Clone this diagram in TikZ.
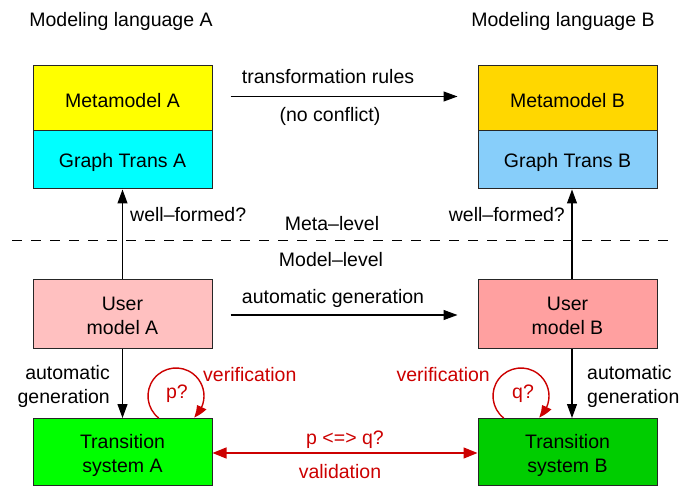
\documentclass[tikz,border=0pt]{standalone}
\usepackage{fontspec}
\setmainfont{Liberation Sans}
\usetikzlibrary{arrows.meta,bending}
\definecolor{cMA}{HTML}{FFFF00}
\definecolor{cGA}{HTML}{00FFFF}
\definecolor{cMB}{HTML}{FFD700}
\definecolor{cGB}{HTML}{87CEFA}
\definecolor{cUA}{HTML}{FFC0C0}
\definecolor{cUB}{HTML}{FFA0A0}
\definecolor{cTA}{HTML}{00FF00}
\definecolor{cTB}{HTML}{00CD00}
\definecolor{vred}{HTML}{CC0000}
\tikzset{
  box/.style={draw=black!85, line width=1pt, minimum width=179pt, inner sep=0pt},
  btxt/.style={inner sep=0pt, align=center, yshift=-2.5pt, font=\fontsize{19.5}{24}\selectfont},
  lbl/.style={inner sep=0pt, align=center, yshift=-1.5pt, font=\fontsize{19.5}{24}\selectfont},
  rlbl/.style={lbl, text=vred},
  arr/.style={line width=1.1pt, -{Triangle[length=14pt,width=10pt]}},
  rarr/.style={draw=vred, line width=1.4pt, {Triangle[length=14pt,width=11pt]}-{Triangle[length=14pt,width=11pt]}},
  loop/.style={draw=vred, line width=1.4pt, -{Triangle[length=13pt,width=10pt,bend]}},
}
\begin{document}
\begin{tikzpicture}[x=1pt,y=-1pt]
\useasboundingbox (0,0) rectangle (685,489);
% titles
\node[lbl] (tiA) at (121,20) {Modeling language A};
\node[lbl] (tiB) at (563,20) {Modeling language B};
% boxes
\node[box, fill=cMA, minimum height=65pt, label={[btxt]center:Metamodel A}] (mA) at (122.5,98.5) {};
\node[box, fill=cGA, minimum height=58pt, label={[btxt]center:Graph Trans A}] (gA) at (122.5,160) {};
\node[box, fill=cMB, minimum height=65pt, label={[btxt]center:Metamodel B}] (mB) at (567.5,98.5) {};
\node[box, fill=cGB, minimum height=58pt, label={[btxt]center:Graph Trans B}] (gB) at (567.5,160) {};
\node[box, fill=cUA, minimum height=69pt, label={[btxt]center:{User\\model A}}] (uA) at (122.5,313.5) {};
\node[box, fill=cUB, minimum height=69pt, label={[btxt]center:{User\\model B}}] (uB) at (567.5,313.5) {};
\node[box, fill=cTA, minimum height=67pt, label={[btxt,yshift=-1pt]center:{Transition\\system A}}] (tA) at (122.5,452) {};
\node[box, fill=cTB, minimum height=67pt, label={[btxt,yshift=-1pt]center:{Transition\\system B}}] (tB) at (567.5,452) {};
% transformation rules
\draw[arr] ([xshift=18pt,yshift=2pt]mA.east) -- ([xshift=-20pt,yshift=2pt]mB.west);
\node[lbl] (trl) at (328,75) {transformation rules};
\node[lbl] (noc) at (330,115) {(no conflict)};
% well-formed
\draw[arr] (uA.north) -- (gA.south);
\draw[arr] ([xshift=4.5pt]uB.north) -- ([xshift=4.5pt]gB.south);
\node[lbl, anchor=west] (wfA) at (130,213) {well–formed?};
\node[lbl, anchor=east] (wfB) at (565,213) {well–formed?};
% levels
\coordinate (dl) at (12,240);
\coordinate (dr) at (675,240);
\draw[line width=1pt, dash pattern=on 10pt off 9pt] (dl) -- (dr);
\node[lbl] (meta) at (332,222) {Meta–level};
\node[lbl] (model) at (331,258) {Model–level};
% automatic generation horizontal
\draw[arr] ([xshift=18pt,yshift=-1.5pt]uA.east) -- ([xshift=-20pt,yshift=-1.5pt]uB.west);
\node[lbl] (ag) at (333,297) {automatic generation};
% automatic generation vertical
\draw[arr] (uA.south) -- (tA.north);
\draw[arr] ([xshift=4.5pt]uB.south) -- ([xshift=4.5pt]tB.north);
\node[lbl, anchor=east, align=right] (agA) at (110,385) {automatic\\generation};
\node[lbl, anchor=west, align=left] (agB) at (587,385) {automatic\\generation};
% verification loops
\coordinate (cA) at (176,396);
\coordinate (cB) at (521,396);
\draw[loop] ([shift={(128:28)}]cA) arc[start angle=128, end angle=410, radius=28];
\draw[loop] ([shift={(128:28)}]cB) arc[start angle=128, end angle=410, radius=28];
\node[rlbl] (pq) at (177,392) {p?};
\node[rlbl] (qq) at (523,392) {q?};
\node[rlbl, anchor=west] (vA) at (203,373) {verification};
\node[rlbl, anchor=east] (vB) at (490,373) {verification};
% validation
\draw[rarr] ([yshift=-1pt]tA.east) -- ([yshift=-1pt]tB.west);
\node[rlbl] (pqq) at (345,438) {p <=> q?};
\node[rlbl] (val) at (340,470) {validation};
\end{tikzpicture}
\end{document}
